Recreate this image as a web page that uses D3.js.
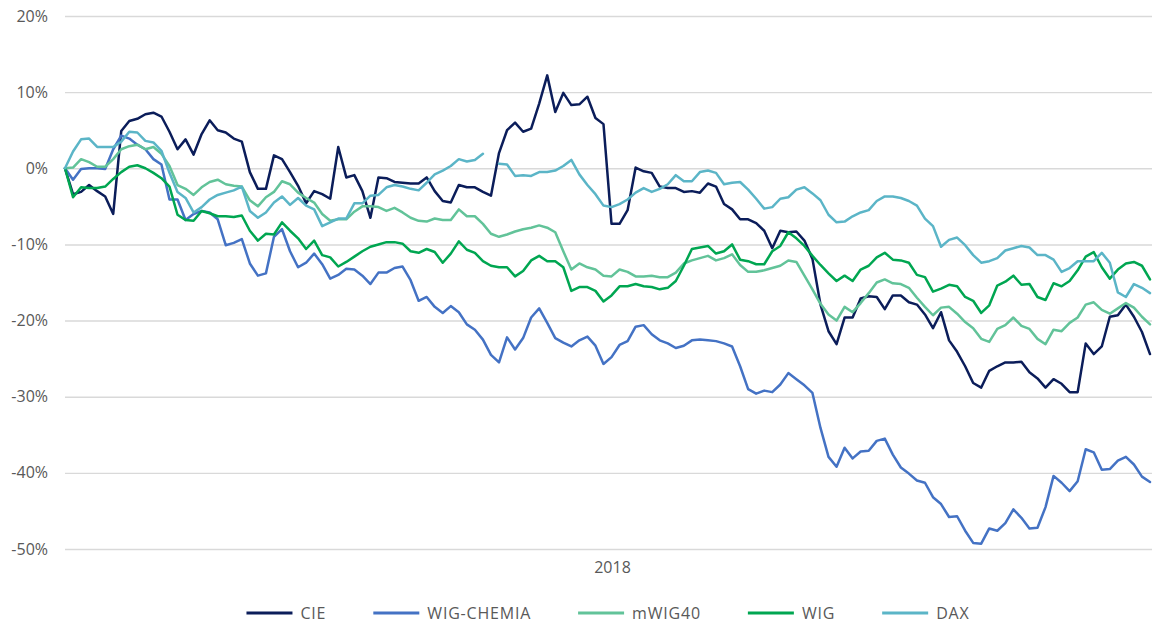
<!DOCTYPE html>
<html>
<head>
<meta charset="utf-8">
<script src="https://cdn.jsdelivr.net/npm/d3@7"></script>
<style>
  html, body { margin: 0; padding: 0; background: #ffffff; }
  svg text { font-family: "Open Sans", "Liberation Sans", sans-serif; fill: #595959; }
</style>
</head>
<body>
<svg id="chart" width="1152" height="624"></svg>
<script>
// Cumulative return since the start of 2018, in percent, one value per trading-day sample
const yTicks = [20, 10, 0, -10, -20, -30, -40, -50];
const periodLabels = ["2018"];
const seriesNames = ["CIE", "WIG-CHEMIA", "mWIG40", "WIG", "DAX"];
const seriesColors = ["#0b1d5a", "#4472c4", "#62c399", "#00a651", "#5bb5c7"];

const cie = [0,-3.4,-3.1,-2.2,-3.0,-3.7,-6.0,4.9,6.2,6.5,
  7.1,7.3,6.8,4.8,2.5,3.8,1.8,4.5,6.3,5.0,
  4.7,3.9,3.5,-0.5,-2.7,-2.7,1.7,1.2,-0.5,-2.3,
  -4.6,-3.0,-3.4,-4.0,2.8,-1.2,-0.9,-3.0,-6.5,-1.2,
  -1.3,-1.8,-1.9,-2.0,-2.0,-1.2,-3.0,-4.3,-4.5,-2.2,
  -2.5,-2.5,-3.1,-3.6,2.0,5.0,6.0,4.8,5.2,8.5,
  12.2,7.4,9.9,8.3,8.4,9.4,6.6,5.8,-7.3,-7.3,
  -5.5,0.1,-0.4,-0.6,-2.4,-2.6,-2.6,-3.1,-3.0,-3.2,
  -2.0,-2.4,-4.7,-5.4,-6.7,-6.7,-7.2,-8.2,-10.5,-8.2,
  -8.4,-8.3,-9.5,-11.9,-17.9,-21.4,-23.1,-19.6,-19.6,-17.1,
  -16.8,-16.9,-18.5,-16.7,-16.7,-17.6,-17.9,-19.2,-21.0,-18.9,
  -22.6,-24.1,-26.0,-28.2,-28.8,-26.6,-26.0,-25.5,-25.5,-25.4,
  -26.8,-27.6,-28.8,-27.7,-28.3,-29.4,-29.4,-23.0,-24.4,-23.4,
  -19.5,-19.3,-17.9,-19.5,-21.5,-24.4];

const wigChemia = [0,-1.5,-0.1,0.0,0.0,-0.1,2.5,4.3,3.9,3.1,
  2.5,1.2,0.5,-4.1,-4.1,-6.8,-6.0,-5.6,-5.8,-6.7,
  -10.1,-9.8,-9.3,-12.5,-14.1,-13.8,-9.0,-8.0,-10.9,-13.0,
  -12.4,-11.2,-12.6,-14.5,-14.0,-13.2,-13.3,-14.1,-15.2,-13.7,
  -13.7,-13.1,-12.9,-14.7,-17.4,-16.9,-18.2,-19.0,-18.1,-18.9,
  -20.5,-21.2,-22.5,-24.5,-25.5,-22.2,-23.8,-22.3,-19.6,-18.4,
  -20.3,-22.3,-22.9,-23.4,-22.6,-22.1,-23.3,-25.7,-24.8,-23.2,
  -22.7,-20.8,-20.6,-21.8,-22.6,-23.0,-23.6,-23.3,-22.6,-22.5,
  -22.6,-22.7,-23.0,-23.4,-26.0,-29.0,-29.6,-29.2,-29.4,-28.4,
  -26.9,-27.7,-28.5,-29.5,-34.1,-37.9,-39.2,-36.7,-38.1,-37.2,
  -37.1,-35.8,-35.5,-37.6,-39.3,-40.1,-41.0,-41.3,-43.2,-44.1,
  -45.8,-45.7,-47.6,-49.2,-49.3,-47.3,-47.6,-46.6,-44.8,-45.9,
  -47.3,-47.2,-44.5,-40.4,-41.3,-42.4,-41.1,-36.9,-37.3,-39.6,
  -39.5,-38.4,-37.9,-38.9,-40.5,-41.2];

const mwig40 = [0,0.1,1.2,0.8,0.2,0.2,1.2,2.5,2.9,3.1,
  2.5,2.8,1.9,0.3,-2.2,-2.7,-3.5,-2.5,-1.8,-1.5,
  -2.1,-2.3,-2.4,-4.2,-5.0,-3.8,-3.1,-1.7,-2.1,-3.2,
  -3.9,-4.5,-6.0,-6.9,-6.7,-6.7,-5.7,-5.0,-5.0,-5.1,
  -5.6,-5.2,-5.8,-6.5,-6.9,-7.0,-6.6,-6.8,-6.8,-5.4,
  -6.3,-6.3,-7.3,-8.6,-9.0,-8.7,-8.3,-8.0,-7.8,-7.5,
  -7.8,-8.4,-10.9,-13.3,-12.5,-13.0,-13.3,-14.1,-14.2,-13.3,
  -13.6,-14.2,-14.2,-14.1,-14.3,-14.3,-13.7,-12.5,-12.1,-11.8,
  -11.5,-12.1,-11.8,-11.3,-12.7,-13.6,-13.6,-13.4,-13.1,-12.8,
  -12.1,-12.3,-14.1,-15.9,-17.8,-19.2,-20.0,-18.2,-18.9,-17.7,
  -16.4,-15.0,-14.6,-15.1,-15.2,-15.7,-17.0,-18.2,-19.3,-18.3,
  -18.2,-19.1,-20.2,-21.0,-22.4,-22.8,-21.1,-20.6,-19.6,-20.7,
  -21.1,-22.4,-23.1,-21.2,-21.4,-20.3,-19.6,-17.9,-17.6,-18.6,
  -19.1,-18.4,-17.7,-18.3,-19.5,-20.5];

const wig = [0,-3.8,-2.5,-2.6,-2.6,-2.4,-1.4,-0.5,0.2,0.4,
  0,-0.6,-1.3,-2.4,-6.1,-6.8,-6.9,-5.6,-5.9,-6.3,
  -6.3,-6.4,-6.2,-8.2,-9.5,-8.6,-8.7,-7.1,-8.2,-9.2,
  -10.6,-9.5,-11.4,-11.7,-12.9,-12.3,-11.6,-10.9,-10.3,-10.0,
  -9.7,-9.7,-9.9,-10.9,-11.1,-10.6,-11.0,-12.4,-11.2,-9.6,
  -10.7,-11.1,-12.2,-12.8,-13.0,-13.0,-14.2,-13.5,-12.1,-11.5,
  -12.2,-12.2,-13.0,-16.1,-15.6,-15.6,-16.1,-17.5,-16.7,-15.5,
  -15.5,-15.2,-15.5,-15.6,-15.9,-15.7,-14.8,-12.8,-10.6,-10.4,
  -10.2,-11.2,-10.9,-10.0,-12.0,-12.2,-12.6,-12.6,-10.9,-10.2,
  -8.4,-9.2,-10.2,-11.5,-12.7,-13.8,-14.8,-14.1,-14.8,-13.3,
  -12.8,-11.7,-11.1,-12.0,-12.1,-12.4,-14.0,-14.3,-16.2,-15.8,
  -15.3,-15.5,-16.9,-17.4,-19.0,-18.0,-15.4,-14.9,-14.1,-15.3,
  -15.2,-16.9,-17.3,-15.1,-15.5,-14.8,-13.4,-11.6,-11.0,-13.0,
  -14.5,-13.3,-12.5,-12.3,-12.8,-14.6];

// DAX has one missing quote (null), drawn as a break in the line
const dax = [0,2.2,3.8,3.9,2.8,2.8,2.8,3.5,4.8,4.7,
  3.6,3.4,2.3,-0.6,-3.1,-3.9,-5.8,-5.1,-4.1,-3.5,
  -3.2,-2.9,-2.4,-5.6,-6.5,-5.8,-4.5,-3.7,-4.8,-3.9,
  -4.9,-5.4,-7.6,-7.1,-6.6,-6.6,-4.6,-4.6,-3.6,-3.5,
  -2.5,-2.2,-2.4,-2.7,-2.9,-1.9,-0.8,-0.3,0.3,1.2,
  0.9,1.1,1.9,null,0.6,0.5,-1.0,-0.9,-1.0,-0.5,
  -0.5,-0.3,0.3,1.1,-0.8,-2.2,-3.4,-4.9,-5.1,-4.7,
  -4.1,-3.2,-2.6,-3.1,-2.7,-2.1,-0.9,-1.7,-1.7,-0.5,
  -0.3,-0.6,-2.1,-1.9,-1.8,-2.8,-4.0,-5.3,-5.1,-4.0,
  -3.8,-2.8,-2.5,-3.3,-4.2,-6.1,-7.1,-7.0,-6.3,-5.8,
  -5.5,-4.3,-3.7,-3.7,-3.9,-4.3,-4.9,-6.6,-7.6,-10.3,
  -9.4,-9.1,-10.1,-11.4,-12.4,-12.2,-11.8,-10.8,-10.5,-10.2,
  -10.4,-11.4,-11.4,-12.0,-13.6,-13.1,-12.2,-12.2,-12.2,-11.1,
  -12.4,-16.3,-16.9,-15.2,-15.7,-16.4];

const seriesValues = [cie, wigChemia, mwig40, wig, dax];

// Layout
const plot = { left: 65, right: 1150, top: 16, bottom: 549, gridRight: 1160 };
const legendCenter = 608, legendY = 613;

const svg = d3.select("#chart");

const x = d3.scaleLinear().domain([0, cie.length - 1]).range([plot.left, plot.right]);
const y = d3.scaleLinear().domain([-50, 20]).range([plot.bottom, plot.top]);
const xPeriod = d3.scaleBand().domain(periodLabels).range([plot.left, plot.gridRight]);

// Horizontal gridlines and percentage labels
const yAxis = svg.append("g")
  .attr("transform", `translate(${plot.left},0)`)
  .call(d3.axisLeft(y)
    .tickValues(yTicks)
    .tickSize(-(plot.gridRight - plot.left))
    .tickPadding(17)
    .tickFormat(d => d + "%"));
yAxis.select(".domain").remove();
yAxis.selectAll(".tick line").attr("stroke", "#d9d9d9").attr("stroke-width", 1.4);
yAxis.selectAll(".tick text").attr("font-size", 16).attr("fill", "#595959");

// Year label under the plot
const xAxis = svg.append("g")
  .attr("transform", `translate(0,${plot.bottom})`)
  .call(d3.axisBottom(xPeriod).tickSize(0).tickPadding(13));
xAxis.select(".domain").remove();
xAxis.selectAll(".tick text").attr("font-size", 16).attr("fill", "#595959");

// Series lines (first series at the bottom, last on top)
const line = d3.line()
  .defined(d => d != null)
  .x((d, i) => x(i))
  .y(d => y(d));

svg.append("g")
  .selectAll("path")
  .data(seriesValues)
  .join("path")
  .attr("fill", "none")
  .attr("stroke", (d, i) => seriesColors[i])
  .attr("stroke-width", 2.5)
  .attr("stroke-linejoin", "round")
  .attr("stroke-linecap", "round")
  .attr("d", line);

// Legend, centred under the plot
const legend = svg.append("g");
const swatch = 46, swatchGap = 8, itemGap = 47;
let cursor = 0;
seriesNames.forEach((name, i) => {
  const g = legend.append("g").attr("transform", `translate(${cursor},0)`);
  g.append("line")
    .attr("x1", 0).attr("x2", swatch)
    .attr("y1", 0).attr("y2", 0)
    .attr("stroke", seriesColors[i])
    .attr("stroke-width", 3);
  const t = g.append("text")
    .attr("x", swatch + swatchGap)
    .attr("y", 0)
    .attr("dy", "0.35em")
    .attr("font-size", 16)
    .attr("letter-spacing", 0.8)
    .text(name);
  cursor += swatch + swatchGap + t.node().getComputedTextLength() + itemGap;
});
const legendWidth = cursor - itemGap;
legend.attr("transform", `translate(${legendCenter - legendWidth / 2},${legendY})`);
</script>
</body>
</html>
